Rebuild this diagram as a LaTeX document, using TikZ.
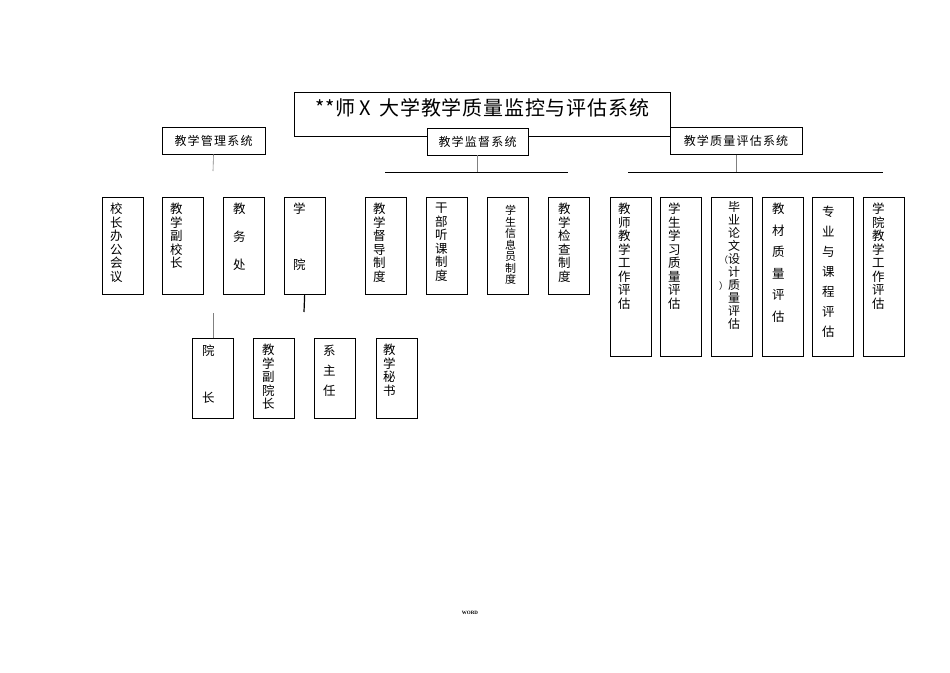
\documentclass[tikz,border=0pt]{standalone}
\usepackage{fontspec}
\setmainfont{Noto Sans CJK SC}
\newfontfamily\titlefont[LetterSpace=4]{Noto Sans CJK SC}
\newfontfamily\headfont[LetterSpace=10]{Noto Sans CJK SC}
\newfontfamily\wordfont{Liberation Serif}
\usetikzlibrary{positioning}

\begin{document}
\begin{tikzpicture}[x=1pt,y=-1pt,
    vbox/.style={draw,line width=.8pt,inner sep=0pt,anchor=north west,minimum width=40.5pt,minimum height=97pt},
    vtxt/.style={anchor=north west,inner sep=0pt,xshift=8pt,yshift=-6pt,align=left,font=\fontsize{12.5}{13.5}\selectfont},
    hbox/.style={draw,line width=.8pt,fill=white,minimum height=27pt,inner sep=0pt,font=\headfont\fontsize{12}{14}\selectfont},
    conn/.style={gray,line width=.6pt},
    bar/.style={black,line width=.8pt}]
      \useasboundingbox (0,0) rectangle (950,672);

      % Title box
      \node[draw,line width=.8pt,anchor=north west,minimum width=376pt,minimum height=44pt,inner sep=0pt,
        label={[anchor=north,yshift=-3pt,font=\titlefont\fontsize{20}{22}\selectfont]north:**师\hspace{3pt}X\hspace{9pt}大学教学质量监控与评估系统}] (title) at (294,92) {};

      % The three systems
      \node[hbox,minimum width=103pt] (gl) at (213.5,140.5) {教学管理系统};
      \node[hbox,minimum width=101pt] (jd) at (477.5,141.5) {教学监督系统};
      \node[hbox,minimum width=132pt] (pg) at (736,141) {教学质量评估系统};

      % Bars below the systems
      \coordinate (glend) at (213,171);
      \coordinate (jdL) at (385,172);
      \coordinate (jdR) at (568,172);
      \coordinate (pgL) at (628,172);
      \coordinate (pgR) at (883,172);
      \draw[conn] (gl.south) -- (glend);
      \draw[conn] (jd.south) -- (jd.south |- jdL);
      \draw[bar] (jdL) -- (jdR);
      \draw[conn] (pg.south) -- (pg.south |- pgL);
      \draw[bar] (pgL) -- (pgR);

      % Management units
      \node[vbox,label={[vtxt]north west:{校\\长\\办\\公\\会\\议}}] (xz) at (102,197) {};
      \node[vbox,label={[vtxt]north west:{教\\学\\副\\校\\长}}] (fxz) at (162,197) {};
      \node[vbox,label={[vtxt,xshift=2pt]north west:{教\\[14.5pt]务\\[14.5pt]处}}] (jwc) at (223,197) {};
      \node[vbox,label={[vtxt,xshift=1pt]north west:{学\\[42.5pt]院}}] (xy) at (284,197) {};

      % Supervision
      \node[vbox,label={[vtxt]north west:{教\\学\\督\\导\\制\\度}}] (dd) at (365,197) {};
      \node[vbox,label={[vtxt,xshift=1pt]north west:{干\\部\\听\\课\\制\\度}}] (tk) at (426,197) {};
      \node[vbox,label={[vtxt,xshift=10pt,yshift=-2pt,font=\fontsize{11}{11.5}\selectfont]north west:{学\\生\\信\\息\\员\\制\\度}}] (xxy) at (487,197) {};
      \node[vbox,label={[vtxt,xshift=2pt]north west:{教\\学\\检\\查\\制\\度}}] (jc) at (548,197) {};

      % Evaluation
      \node[vbox,minimum height=159pt,label={[vtxt]north west:{教\\师\\教\\学\\工\\作\\评\\估}}] (js) at (610,197) {};
      \node[vbox,minimum height=159pt,label={[vtxt]north west:{学\\生\\学\\习\\质\\量\\评\\估}}] (xs) at (660,197) {};
      \node[vbox,minimum height=159pt,label={[vtxt,xshift=9pt,yshift=2pt,font=\fontsize{12}{13}\selectfont]north west:{毕\\业\\论\\文\\\llap{\fontsize{9}{9}\selectfont（}设\\计\\\llap{\fontsize{9}{9}\selectfont）}质\\量\\评\\估}}] (bl) at (711,197) {};
      \node[vbox,minimum height=159pt,label={[vtxt,xshift=2pt]north west:{教\\[8pt]材\\[8pt]质\\[8pt]量\\[8pt]评\\[8pt]估}}] (jcz) at (762,197) {};
      \node[vbox,minimum height=159pt,label={[vtxt,xshift=2pt,yshift=-3pt]north west:{专\\[6.5pt]业\\[6.5pt]与\\[6.5pt]课\\[6.5pt]程\\[6.5pt]评\\[6.5pt]估}}] (zy) at (812,197) {};
      \node[vbox,minimum height=159pt,label={[vtxt,xshift=1pt]north west:{学\\院\\教\\学\\工\\作\\评\\估}}] (xyg) at (863,197) {};

      % College level
      \coordinate (xyend) at (304,312);
      \coordinate (yztop) at (213,313);
      \draw[black,line width=1.2pt] (xy.south) -- (xyend);
      \node[vbox,minimum height=80pt,label={[vtxt,xshift=2pt,yshift=-1pt]north west:{院\\[33.5pt]长}}] (yz) at (192,338) {};
      \node[vbox,minimum height=80pt,label={[vtxt,xshift=1pt]north west:{教\\学\\副\\院\\长}}] (fyz) at (253,338) {};
      \node[vbox,minimum height=80pt,label={[vtxt,xshift=1pt,yshift=-1pt]north west:{系\\[6.5pt]主\\[6.5pt]任}}] (xzr) at (314,338) {};
      \node[vbox,minimum height=80pt,label={[vtxt,xshift=-1pt]north west:{教\\学\\秘\\书}}] (ms) at (376,338) {};
      \draw[conn] (yz.north -| yztop) -- (yztop);

      % Footer
      \node[font=\wordfont\bfseries\fontsize{5}{6}\selectfont] (word) at (470,613) {WORD};
    \end{tikzpicture}
\end{document}
